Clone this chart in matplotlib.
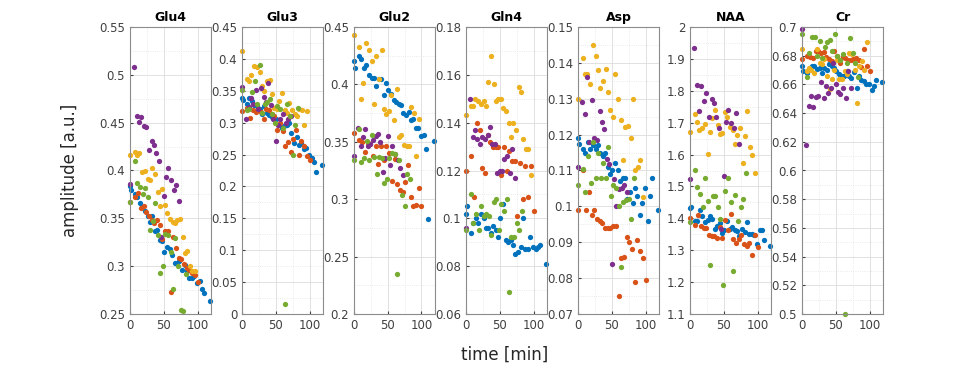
import numpy as np
import matplotlib.pyplot as plt
from matplotlib.ticker import FuncFormatter, MultipleLocator

# acquisition times per subject (min)
t_blue = [0, 1, 7, 11, 15, 18, 22, 26, 29, 33, 37, 40, 44, 48, 51, 55, 59, 62, 66, 70, 73, 77, 81, 84, 88, 92, 95, 99, 103, 106, 110, 118]
t_orange = [0, 8, 12, 16, 20, 24, 28, 32, 36, 40, 44, 48, 52, 56, 60, 64, 68, 72, 76, 80, 84, 88, 92, 96, 100]
t_yellow = [0, 7, 11, 14, 18, 22, 26, 29, 33, 37, 41, 44, 48, 52, 55, 59, 63, 66, 70, 74, 78, 81, 85, 89, 92, 96]
t_purple = [0, 6, 10, 13, 17, 21, 24, 28, 32, 35, 39, 43, 46, 50, 54, 57, 61, 65, 68, 72]
t_green = [0, 7, 11, 15, 19, 22, 26, 30, 34, 37, 41, 45, 49, 52, 56, 60, 64, 67, 71, 75, 79, 83]

metabolites = ["Glu4", "Glu3", "Glu2", "Gln4", "Asp", "NAA", "Cr"]
y_ranges = [(0.25, 0.55), (0, 0.45), (0.2, 0.45), (0.06, 0.18), (0.07, 0.15), (1.1, 2), (0.5, 0.7)]
y_steps = [0.05, 0.05, 0.05, 0.02, 0.01, 0.1, 0.02]

glu4_blue = [0.384, 0.380, 0.375, 0.372, 0.366, 0.362, 0.358, 0.352, 0.346, 0.352, 0.337, 0.338, 0.327, 0.326, 0.315, 0.320, 0.318, 0.312, 0.303, 0.303, 0.305, 0.296, 0.301, 0.295, 0.288, 0.288, 0.290, 0.282, 0.284, 0.276, 0.272, 0.264]
glu4_orange = [0.367, 0.372, 0.377, 0.361, 0.363, 0.357, 0.352, 0.348, 0.345, 0.348, 0.343, 0.328, 0.337, 0.337, 0.273, 0.331, 0.319, 0.309, 0.308, 0.302, 0.298, 0.296, 0.293, 0.291, 0.283]
glu4_yellow = [0.416, 0.419, 0.416, 0.418, 0.398, 0.399, 0.391, 0.390, 0.403, 0.396, 0.378, 0.363, 0.381, 0.364, 0.356, 0.349, 0.346, 0.345, 0.348, 0.349, 0.330, 0.314, 0.316, 0.300, 0.295, 0.295]
glu4_purple = [0.386, 0.508, 0.457, 0.451, 0.456, 0.446, 0.445, 0.421, 0.431, 0.427, 0.418, 0.410, 0.331, 0.373, 0.393, 0.403, 0.390, 0.380, 0.385, 0.368]
glu4_green = [0.367, 0.410, 0.387, 0.383, 0.375, 0.382, 0.372, 0.338, 0.347, 0.366, 0.333, 0.293, 0.300, 0.334, 0.333, 0.315, 0.276, 0.329, 0.300, 0.254, 0.253, 0.292]

glu3_blue = [0.339, 0.336, 0.330, 0.338, 0.334, 0.328, 0.326, 0.321, 0.313, 0.326, 0.315, 0.312, 0.309, 0.306, 0.305, 0.297, 0.292, 0.294, 0.297, 0.299, 0.284, 0.268, 0.278, 0.265, 0.268, 0.258, 0.260, 0.249, 0.245, 0.239, 0.222, 0.233]
glu3_orange = [0.319, 0.323, 0.307, 0.320, 0.316, 0.322, 0.316, 0.306, 0.321, 0.320, 0.313, 0.310, 0.288, 0.300, 0.287, 0.263, 0.270, 0.254, 0.275, 0.288, 0.250, 0.271, 0.263, 0.247, 0.241]
glu3_yellow = [0.413, 0.369, 0.365, 0.375, 0.389, 0.387, 0.379, 0.358, 0.349, 0.366, 0.367, 0.345, 0.323, 0.322, 0.334, 0.347, 0.320, 0.315, 0.331, 0.320, 0.314, 0.310, 0.322, 0.320, 0.297, 0.318]
glu3_purple = [0.356, 0.306, 0.325, 0.338, 0.330, 0.352, 0.321, 0.355, 0.340, 0.333, 0.362, 0.328, 0.305, 0.271, 0.297, 0.305, 0.314, 0.300, 0.305, 0.311]
glu3_green = [0.351, 0.320, 0.322, 0.348, 0.365, 0.330, 0.391, 0.315, 0.330, 0.332, 0.337, 0.313, 0.300, 0.326, 0.322, 0.292, 0.015, 0.329, 0.310, 0.250, 0.297, 0.323]

glu2_blue = [0.420, 0.414, 0.425, 0.422, 0.414, 0.417, 0.408, 0.406, 0.406, 0.399, 0.405, 0.405, 0.391, 0.401, 0.395, 0.392, 0.386, 0.385, 0.383, 0.382, 0.375, 0.373, 0.376, 0.369, 0.370, 0.362, 0.362, 0.355, 0.356, 0.344, 0.283, 0.351]
glu2_orange = [0.358, 0.352, 0.350, 0.341, 0.349, 0.348, 0.338, 0.346, 0.331, 0.346, 0.334, 0.346, 0.340, 0.316, 0.335, 0.313, 0.308, 0.306, 0.315, 0.330, 0.302, 0.294, 0.295, 0.310, 0.294]
glu2_yellow = [0.443, 0.433, 0.387, 0.401, 0.436, 0.430, 0.420, 0.383, 0.425, 0.405, 0.430, 0.379, 0.374, 0.377, 0.391, 0.369, 0.396, 0.354, 0.356, 0.347, 0.346, 0.346, 0.380, 0.375, 0.338, 0.370]
glu2_purple = [0.338, 0.362, 0.346, 0.354, 0.361, 0.346, 0.348, 0.352, 0.355, 0.357, 0.350, 0.324, 0.336, 0.355, 0.330, 0.346, 0.339, 0.334, 0.327, 0.321]
glu2_green = [0.334, 0.361, 0.332, 0.336, 0.351, 0.334, 0.356, 0.337, 0.322, 0.337, 0.336, 0.314, 0.318, 0.336, 0.340, 0.339, 0.235, 0.334, 0.304, 0.294, 0.322, 0.318]

gln4_blue = [0.102, 0.105, 0.094, 0.098, 0.100, 0.098, 0.102, 0.100, 0.096, 0.096, 0.094, 0.097, 0.095, 0.092, 0.100, 0.106, 0.091, 0.090, 0.091, 0.089, 0.085, 0.086, 0.088, 0.100, 0.087, 0.087, 0.092, 0.088, 0.087, 0.088, 0.089, 0.081]
gln4_orange = [0.120, 0.126, 0.109, 0.140, 0.137, 0.121, 0.119, 0.135, 0.132, 0.130, 0.130, 0.130, 0.118, 0.130, 0.120, 0.128, 0.124, 0.124, 0.101, 0.123, 0.108, 0.122, 0.109, 0.122, 0.103]
gln4_yellow = [0.143, 0.147, 0.147, 0.150, 0.149, 0.148, 0.149, 0.147, 0.157, 0.168, 0.156, 0.149, 0.150, 0.150, 0.146, 0.145, 0.140, 0.134, 0.140, 0.137, 0.155, 0.153, 0.133, 0.129, 0.129, 0.118]
gln4_purple = [0.096, 0.150, 0.134, 0.137, 0.133, 0.131, 0.134, 0.133, 0.135, 0.138, 0.131, 0.131, 0.119, 0.120, 0.120, 0.125, 0.126, 0.119, 0.129, 0.117]
gln4_green = [0.095, 0.110, 0.098, 0.102, 0.095, 0.105, 0.101, 0.102, 0.101, 0.093, 0.107, 0.108, 0.095, 0.106, 0.103, 0.108, 0.069, 0.092, 0.092, 0.098, 0.095, 0.103]

asp_blue = [0.119, 0.1175, 0.116, 0.115, 0.118, 0.116, 0.117, 0.116, 0.117, 0.115, 0.114, 0.115, 0.111, 0.109, 0.110, 0.112, 0.110, 0.107, 0.108, 0.108, 0.102, 0.104, 0.101, 0.105, 0.103, 0.0975, 0.101, 0.105, 0.096, 0.103, 0.108, 0.099]
asp_orange = [0.099, 0.110, 0.099, 0.104, 0.0975, 0.099, 0.0965, 0.096, 0.0955, 0.094, 0.094, 0.094, 0.0945, 0.0945, 0.075, 0.0855, 0.086, 0.0916, 0.090, 0.088, 0.079, 0.0905, 0.0875, 0.0855, 0.0795]
asp_yellow = [0.130, 0.1414, 0.137, 0.137, 0.134, 0.145, 0.142, 0.138, 0.133, 0.135, 0.1384, 0.132, 0.127, 0.125, 0.137, 0.130, 0.124, 0.113, 0.122, 0.1225, 0.119, 0.130, 0.110, 0.111, 0.113, 0.1025]
asp_purple = [0.111, 0.129, 0.1257, 0.136, 0.118, 0.1296, 0.119, 0.1185, 0.1266, 0.1234, 0.1215, 0.1133, 0.1117, 0.084, 0.1075, 0.100, 0.1048, 0.105, 0.106, 0.104]
asp_green = [0.106, 0.1105, 0.104, 0.114, 0.1065, 0.118, 0.108, 0.115, 0.108, 0.112, 0.108, 0.1165, 0.103, 0.106, 0.105, 0.100, 0.083, 0.1013, 0.1017, 0.102, 0.0965, 0.108]

naa_blue = [1.431, 1.434, 1.392, 1.392, 1.426, 1.407, 1.388, 1.394, 1.407, 1.397, 1.366, 1.377, 1.386, 1.353, 1.363, 1.392, 1.366, 1.374, 1.363, 1.361, 1.346, 1.368, 1.356, 1.389, 1.351, 1.351, 1.347, 1.318, 1.363, 1.363, 1.332, 1.313]
naa_orange = [1.400, 1.379, 1.410, 1.376, 1.370, 1.371, 1.347, 1.345, 1.345, 1.337, 1.374, 1.337, 1.394, 1.363, 1.415, 1.334, 1.323, 1.335, 1.347, 1.321, 1.314, 1.323, 1.285, 1.347, 1.311]
naa_yellow = [1.671, 1.728, 1.702, 1.676, 1.682, 1.697, 1.603, 1.671, 1.716, 1.741, 1.692, 1.666, 1.668, 1.734, 1.718, 1.687, 1.678, 1.633, 1.661, 1.682, 1.572, 1.658, 1.737, 1.624, 1.598, 1.541]
naa_purple = [1.522, 1.935, 1.817, 1.736, 1.814, 1.768, 1.793, 1.718, 1.773, 1.762, 1.718, 1.683, 1.365, 1.533, 1.702, 1.741, 1.699, 1.682, 1.731, 1.633]
naa_green = [1.389, 1.553, 1.497, 1.476, 1.434, 1.525, 1.454, 1.255, 1.469, 1.470, 1.436, 1.397, 1.190, 1.486, 1.525, 1.450, 1.235, 1.472, 1.391, 1.436, 1.462, 1.541]

cr_blue = [0.6727, 0.669, 0.668, 0.671, 0.6727, 0.6727, 0.671, 0.6716, 0.6676, 0.6716, 0.670, 0.674, 0.6727, 0.6716, 0.669, 0.667, 0.666, 0.666, 0.669, 0.666, 0.6646, 0.6686, 0.6576, 0.666, 0.663, 0.6623, 0.6606, 0.660, 0.656, 0.659, 0.663, 0.662]
cr_orange = [0.678, 0.680, 0.679, 0.6785, 0.683, 0.683, 0.682, 0.6825, 0.679, 0.678, 0.676, 0.683, 0.680, 0.675, 0.679, 0.6785, 0.677, 0.677, 0.678, 0.6785, 0.677, 0.672, 0.6844, 0.673, 0.669]
cr_yellow = [0.6848, 0.669, 0.6716, 0.670, 0.6676, 0.6848, 0.6746, 0.674, 0.678, 0.6657, 0.657, 0.664, 0.670, 0.677, 0.664, 0.664, 0.669, 0.667, 0.6816, 0.681, 0.670, 0.6467, 0.6727, 0.676, 0.670, 0.6895]
cr_purple = [0.6985, 0.618, 0.645, 0.652, 0.644, 0.6513, 0.652, 0.6615, 0.6506, 0.659, 0.654, 0.6576, 0.675, 0.660, 0.6546, 0.6536, 0.6576, 0.6506, 0.669, 0.6576]
cr_green = [0.695, 0.665, 0.682, 0.6933, 0.6933, 0.680, 0.690, 0.6785, 0.686, 0.6895, 0.6906, 0.683, 0.695, 0.680, 0.677, 0.681, 0.500, 0.675, 0.6923, 0.682, 0.675, 0.665]

panel_data = [
    [glu4_blue, glu4_orange, glu4_yellow, glu4_purple, glu4_green],
    [glu3_blue, glu3_orange, glu3_yellow, glu3_purple, glu3_green],
    [glu2_blue, glu2_orange, glu2_yellow, glu2_purple, glu2_green],
    [gln4_blue, gln4_orange, gln4_yellow, gln4_purple, gln4_green],
    [asp_blue, asp_orange, asp_yellow, asp_purple, asp_green],
    [naa_blue, naa_orange, naa_yellow, naa_purple, naa_green],
    [cr_blue, cr_orange, cr_yellow, cr_purple, cr_green],
]
times = [t_blue, t_orange, t_yellow, t_purple, t_green]
colors = ["#0072BD", "#D95319", "#EDB120", "#7E2F8E", "#77AC30"]


def style_axis(ax, ylim, ystep):
    ax.set_xlim(0, 120)
    ax.set_ylim(*ylim)
    ax.xaxis.set_major_locator(MultipleLocator(50))
    ax.xaxis.set_minor_locator(MultipleLocator(25))
    ax.yaxis.set_major_locator(MultipleLocator(ystep))
    ax.yaxis.set_minor_locator(MultipleLocator(ystep / 2))
    ax.yaxis.set_major_formatter(FuncFormatter(lambda v, p: "%g" % round(v, 4)))
    ax.grid(True, which="major", color="#dcdcdc", linewidth=0.6)
    ax.grid(True, which="minor", color="#e4e4e4", linewidth=0.6, linestyle=":")
    ax.set_axisbelow(True)
    ax.tick_params(which="both", direction="in", labelsize=8.5, colors="#404040", length=2.5)
    ax.tick_params(which="minor", length=0)
    for sp in ax.spines.values():
        sp.set_color("#8c8c8c")
        sp.set_linewidth(0.8)


def main():
    fig = plt.figure(figsize=(9.75, 3.71), dpi=100)
    W, H = 975, 371
    for i, name in enumerate(metabolites):
        left = 130 + 112 * i
        ax = fig.add_axes([left / W, (H - 314) / H, 81 / W, 287 / H])
        for t, vals, c in zip(times, panel_data[i], colors):
            ax.plot(t, vals, "o", color=c, markersize=3.8, markeredgewidth=0, clip_on=False)
        style_axis(ax, y_ranges[i], y_steps[i])
        ax.set_title(name, fontsize=9, fontweight="bold", pad=4)

    fig.text(70 / W, 1 - 170 / H, "amplitude [a.u.]", rotation=90, fontsize=12,
             ha="center", va="center", color="#262626")
    fig.text(505 / W, 1 - 355 / H, "time [min]", fontsize=12, ha="center", va="center", color="#262626")
    fig.savefig("out.png", dpi=100)


if __name__ == "__main__":
    main()
